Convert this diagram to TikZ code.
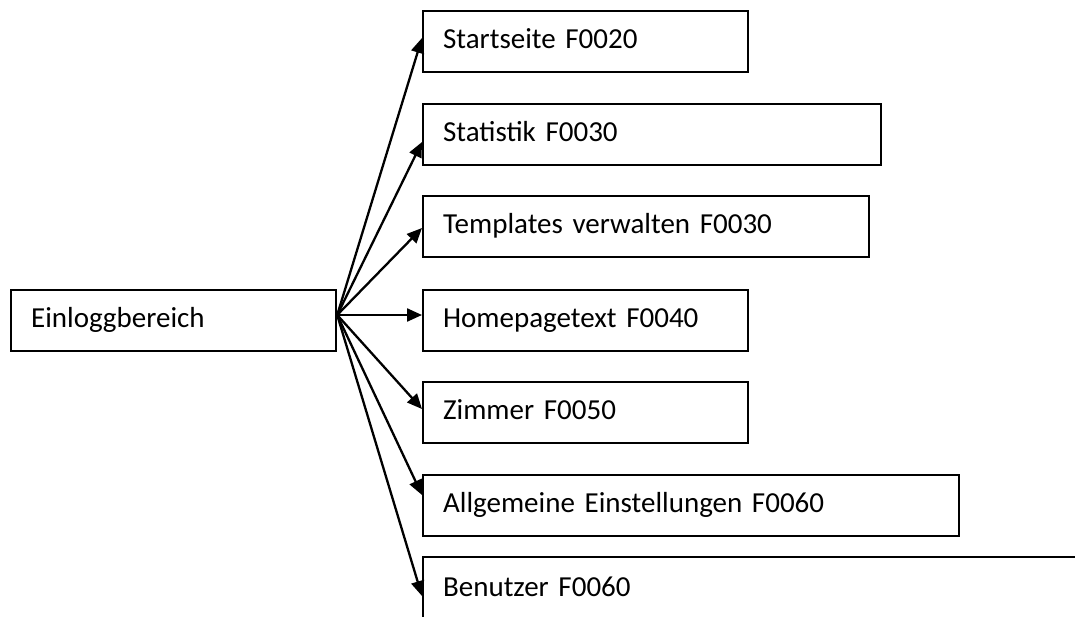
\documentclass[tikz,border=0pt]{standalone}
\usepackage{fontspec}
\setmainfont{Carlito}
\usetikzlibrary{arrows.meta,calc}
\begin{document}
\begin{tikzpicture}[x=1pt,y=-1pt,
  box/.style={draw, line width=2.2pt, anchor=north west, minimum height=61pt,
    inner xsep=20pt, inner ysep=0pt, align=left, text height=20pt, text depth=6pt,
    font=\fontsize{29}{35}\selectfont},
  conn/.style={line width=2.3pt, -{Triangle[length=15pt,width=13pt]}}]
\clip (0,0) rectangle (1075,616);
\fill[white] (0,0) rectangle (1075,616);
\node[box, text width=285pt] (e) at (10,289) {Einloggbereich};
\node[box, text width=285pt] (s1) at (422,10) {Startseite F0020};
\node[box, text width=418pt] (s2) at (422,103) {Statistik F0030};
\node[box, text width=406pt] (s3) at (422,195) {Templates verwalten F0030};
\node[box, text width=285pt] (s4) at (422,289) {Homepagetext F0040};
\node[box, text width=285pt] (s5) at (422,381) {Zimmer F0050};
\node[box, text width=496pt] (s6) at (422,474) {Allgemeine Einstellungen F0060};
\node[box, text width=628pt, minimum height=64pt] (s7) at (422,556) {Benutzer F0060};
\coordinate (o) at ($(e.north east)+(0,26)$);
\draw[conn] (o) -- ($(s1.north west)+(0,28)$);
\draw[conn] (o) -- ($(s2.north west)+(0,39)$);
\draw[conn] (o) -- ($(s3.north west)+(0,33)$);
\draw[conn] (o) -- ($(s4.north west)+(0,26)$);
\draw[conn] (o) -- ($(s5.north west)+(0,28)$);
\draw[conn] (o) -- ($(s6.north west)+(0,21)$);
\draw[conn] (o) -- ($(s7.north west)+(0,40)$);
\end{tikzpicture}
\end{document}
